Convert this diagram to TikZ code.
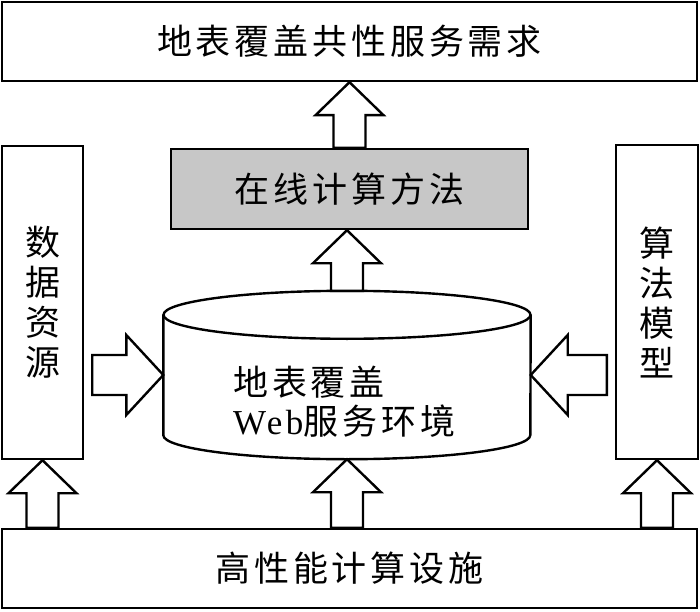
\documentclass[tikz,border=0pt]{standalone}
\usepackage{fontspec}
\setmainfont{Liberation Serif}
\newfontfamily\cjk{Noto Sans CJK SC}[LetterSpace=11]
\newfontfamily\lat{Liberation Serif}[LetterSpace=10]
\usetikzlibrary{calc}

\tikzset{
  box/.style={draw,line width=2.4pt,inner sep=0pt,align=center,
    font=\cjk\fontsize{35}{40}\selectfont},
  blk/.style={draw,fill=white,line width=2.4pt,line join=miter}
}

% hollow block arrows, from start to tip
\newcommand\uparr[2]{\draw[blk] let \p1=(#1), \p2=(#2) in
  ({\x1-16pt},\y1) -- ({\x1-16pt},{\y2-33pt}) -- ({\x1-34pt},{\y2-33pt}) -- (\x1,\y2)
  -- ({\x1+34pt},{\y2-33pt}) -- ({\x1+16pt},{\y2-33pt}) -- ({\x1+16pt},\y1) -- cycle;}
\newcommand\sidearr[3]{\draw[blk] let \p1=(#1), \p2=(#2) in
  (\x1,{\y1-20pt}) -- ({\x2-(#3)},{\y1-20pt}) -- ({\x2-(#3)},{\y1-40pt}) -- (\x2,\y1)
  -- ({\x2-(#3)},{\y1+40pt}) -- ({\x2-(#3)},{\y1+20pt}) -- (\x1,{\y1+20pt}) -- cycle;}

\begin{document}
\begin{tikzpicture}[x=1pt,y=1pt]
  \useasboundingbox (0,0) rectangle (700,611);

  \node[box,minimum width=695pt,minimum height=79pt] (need) at (349.5,569.5) {地表覆盖共性服务需求};
  \node[box,fill=black!22,minimum width=357pt,minimum height=80pt] (online) at (349.5,422) {在线计算方法};
  \node[box,minimum width=81pt,minimum height=313pt] (data) at (42.5,308.5) {数\\据\\资\\源};
  \node[box,minimum width=82pt,minimum height=314pt] (model) at (657,309) {算\\法\\模\\型};
  \node[box,minimum width=695pt,minimum height=79pt] (base) at (349.5,42.5) {高性能计算设施};

  % cylinder
  \node[minimum width=367pt,minimum height=120pt,inner sep=0pt] (web) at (347,236) {};
  \draw[blk] (web.north west) -- (web.south west)
    arc[start angle=180,end angle=360,x radius=183.5pt,y radius=24pt] -- (web.north east);
  \draw[blk] (web.north) ellipse[x radius=183.5pt,y radius=24pt];
  \node[anchor=west,inner sep=0pt,align=left,font=\cjk\fontsize{35}{39}\selectfont]
    (webtxt) at (233,209) {地表覆盖\\{\lat Web}服务环境};

  \uparr{online.north}{need.south}
  \uparr{$(web.north)+(0,24pt)$}{online.south}
  \uparr{base.north -| data.south}{data.south}
  \uparr{base.north -| web.south}{$(web.south)+(0,-24pt)$}
  \uparr{base.north -| model.south}{model.south}
  \sidearr{$(data.east |- web.center)+(8pt,0)$}{web.west}{37pt}
  \sidearr{$(model.west |- web.center)+(-8pt,0)$}{web.east}{-37pt}
\end{tikzpicture}
\end{document}
